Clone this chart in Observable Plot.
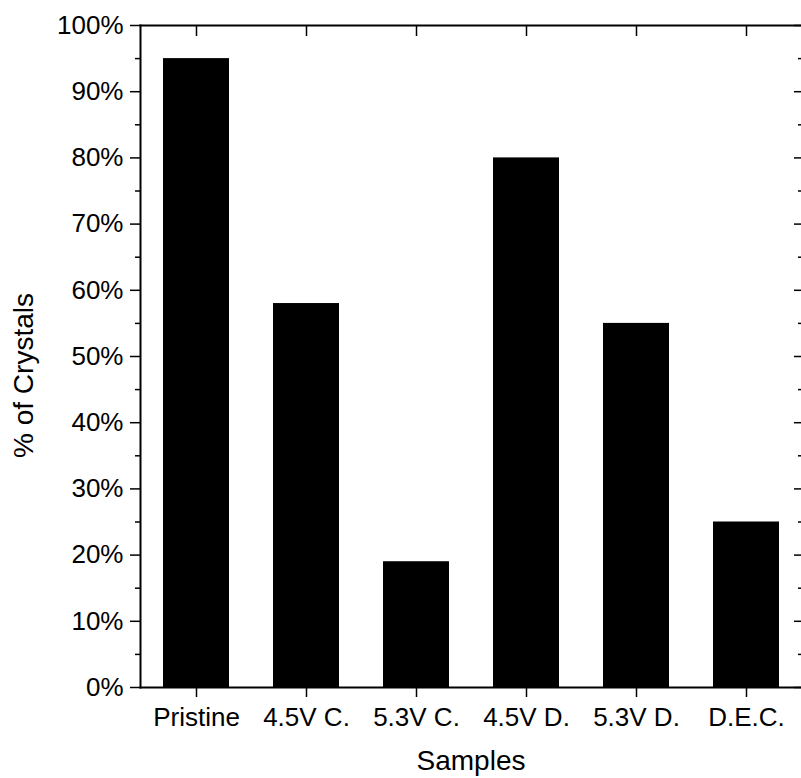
<!DOCTYPE html>
<html>
<head>
<meta charset="utf-8">
<script src="https://cdn.jsdelivr.net/npm/d3@7"></script>
<script src="https://cdn.jsdelivr.net/npm/@observablehq/plot@0.6"></script>
<style>
  html, body { margin: 0; padding: 0; background: #fff; }
</style>
</head>
<body>
<div id="chart"></div>
<script>
const samples = ["Pristine", "4.5V C.", "5.3V C.", "4.5V D.", "5.3V D.", "D.E.C."];
const crystals = [95, 58, 19, 80, 55, 25];
const majorTicks = [0, 10, 20, 30, 40, 50, 60, 70, 80, 90, 100];
const minorTicks = [5, 15, 25, 35, 45, 55, 65, 75, 85, 95];
const xTitle = "Samples";
const yTitle = "% of Crystals";

const data = samples.map((s, i) => ({sample: s, value: crystals[i]}));

const chart = Plot.plot({
  width: 801,
  height: 778,
  marginLeft: 140,
  marginRight: 0,
  marginTop: 25,
  marginBottom: 91,
  style: {fontFamily: "'Liberation Sans', Arial, sans-serif", fontSize: "26px", color: "#000", background: "#fff"},
  x: {domain: samples, paddingInner: 0.4, paddingOuter: 0.2},
  y: {domain: [0, 100]},
  marks: [
    Plot.barY(data, {x: "sample", y: "value", fill: "#000"}),
    Plot.frame({anchor: "right", stroke: "#888", strokeWidth: 1}),
    Plot.frame({anchor: "left", stroke: "#000", strokeWidth: 2}),
    Plot.frame({anchor: "top", stroke: "#000", strokeWidth: 2}),
    Plot.frame({anchor: "bottom", stroke: "#000", strokeWidth: 2}),
    Plot.axisY(majorTicks, {anchor: "left", tickSize: 10, tickPadding: 7, tickFormat: d => d + "%", fontSize: 26, strokeWidth: 1.5, label: null}),
    Plot.axisY(minorTicks, {anchor: "left", tickSize: 5, tickFormat: () => "", strokeWidth: 1.5, label: null}),
    Plot.axisY(majorTicks, {anchor: "right", tickSize: -8, tickFormat: () => "", strokeWidth: 1.5, label: null}),
    Plot.axisY(minorTicks, {anchor: "right", tickSize: -4, tickFormat: () => "", strokeWidth: 1.5, label: null}),
    Plot.axisX({anchor: "bottom", tickSize: 10, tickPadding: 10, fontSize: 26, strokeWidth: 1.5, label: null}),
    Plot.axisX({anchor: "top", tickSize: -10, tickFormat: () => "", strokeWidth: 1.5, label: null}),
    Plot.text([xTitle], {frameAnchor: "bottom", lineAnchor: "middle", textAnchor: "middle", dy: 74, fontSize: 28, text: d => d}),
    Plot.text([yTitle], {frameAnchor: "left", textAnchor: "middle", lineAnchor: "middle", dx: -116, dy: 19, rotate: -90, fontSize: 28, text: d => d})
  ]
});
document.getElementById("chart").appendChild(chart);
</script>
</body>
</html>
